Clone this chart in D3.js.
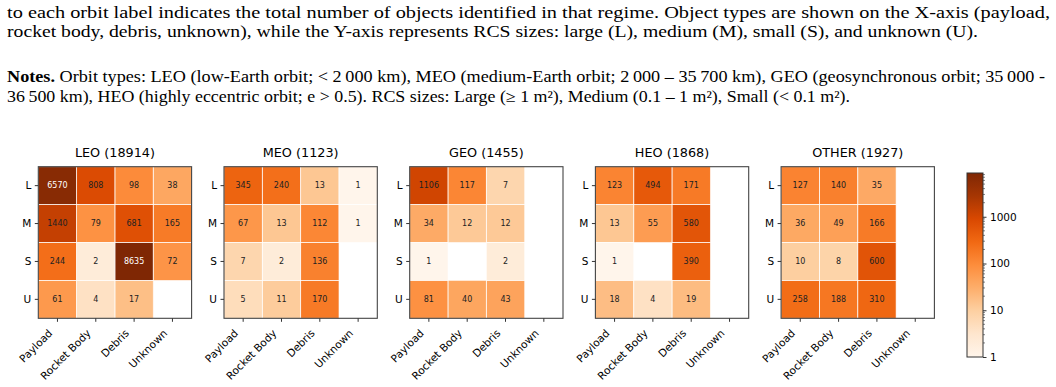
<!DOCTYPE html>
<html><head><meta charset="utf-8">
<script src="https://cdn.jsdelivr.net/npm/d3@7/dist/d3.min.js"></script>
<style>
html,body{margin:0;padding:0;background:#fff;}
svg{display:block;}
.serif{font-family:"Liberation Serif","Times New Roman",Times,serif;}
</style></head>
<body>
<svg id="chart" width="1056" height="387"></svg>
<script>
// ---------- data ----------
const orbits = ["LEO", "MEO", "GEO", "HEO", "OTHER"];
const objectTypes = ["Payload", "Rocket Body", "Debris", "Unknown"];
const rcsSizes = ["L", "M", "S", "U"];
// rows: L, M, S, U ; columns: Payload, Rocket Body, Debris, Unknown (null = none)
const leoCounts   = [[6570, 808, 98, 38], [1440, 79, 681, 165], [244, 2, 8635, 72], [61, 4, 17, null]];
const meoCounts   = [[345, 240, 13, 1], [67, 13, 112, 1], [7, 2, 136, null], [5, 11, 170, null]];
const geoCounts   = [[1106, 117, 7, null], [34, 12, 12, null], [1, null, 2, null], [81, 40, 43, null]];
const heoCounts   = [[123, 494, 171, null], [13, 55, 580, null], [1, null, 390, null], [18, 4, 19, null]];
const otherCounts = [[127, 140, 35, null], [36, 49, 166, null], [10, 8, 600, null], [258, 188, 310, null]];
const colorbarTicks = [1, 10, 100, 1000];
const captionLines = [
  "to each orbit label indicates the total number of objects identified in that regime. Object types are shown on the X-axis (payload,",
  "rocket body, debris, unknown), while the Y-axis represents RCS sizes: large (L), medium (M), small (S), and unknown (U)."
];
const notesLines = [
  "Orbit types: LEO (low-Earth orbit; < 2\u2009000 km), MEO (medium-Earth orbit; 2\u2009000 \u2013 35\u2009700 km), GEO (geosynchronous orbit; 35\u2009000 -",
  "36\u2009500 km), HEO (highly eccentric orbit; e > 0.5). RCS sizes: Large (\u2265 1 m\u00B2), Medium (0.1 \u2013 1 m\u00B2), Small (< 0.1 m\u00B2)."
];
const panelData = [leoCounts, meoCounts, geoCounts, heoCounts, otherCounts];

// ---------- setup ----------
const svg = d3.select("#chart");
const sans = "'DejaVu Sans',sans-serif";

// caption text
const cap = svg.append("g").attr("class", "serif").attr("font-size", 16).attr("fill", "#000");
cap.append("text").attr("x", 7).attr("y", 17.5).attr("textLength", 1043).attr("lengthAdjust", "spacingAndGlyphs").text(captionLines[0]);
cap.append("text").attr("x", 7).attr("y", 37).attr("textLength", 971).attr("lengthAdjust", "spacingAndGlyphs").text(captionLines[1]);
const n1 = cap.append("text").attr("x", 7).attr("y", 82).attr("textLength", 1038).attr("lengthAdjust", "spacingAndGlyphs");
n1.append("tspan").attr("font-weight", "bold").text("Notes.");
n1.append("tspan").text(" " + notesLines[0]);
cap.append("text").attr("x", 7).attr("y", 102).attr("textLength", 843).attr("lengthAdjust", "spacingAndGlyphs").text(notesLines[1]);

// colour map (matplotlib Oranges), log norm
const vmax = d3.max(panelData.flat(2).filter(v => v != null));
const orangeStops = ["#fff5eb", "#fee6ce", "#fdd0a2", "#fdae6b", "#fd8d3c", "#f16913", "#d94801", "#a63603", "#7f2704"];
const tScale = d3.scaleLog().domain([1, vmax]).range([0, 1]);
const cmap = d3.scaleLinear().domain(d3.range(9).map(i => i / 8)).range(orangeStops).interpolate(d3.interpolateRgb);
const color = v => cmap(tScale(v));

// panels
const panelLeft = 38.3, panelStep = 185.7, panelTop = 166.7, panelW = 153.3, panelH = 151.6;

panelData.forEach((counts, pi) => {
  const x0 = panelLeft + pi * panelStep;
  const g = svg.append("g").attr("transform", `translate(${x0},${panelTop})`);
  const x = d3.scaleBand().domain(objectTypes).range([0, panelW]);
  const y = d3.scaleBand().domain(rcsSizes).range([0, panelH]);
  const cells = [];
  counts.forEach((row, ri) => row.forEach((v, ci) => cells.push({ r: rcsSizes[ri], c: objectTypes[ci], v })));
  const filled = cells.filter(d => d.v != null);

  g.selectAll("rect.cell").data(filled).join("rect").attr("class", "cell")
    .attr("x", d => x(d.c)).attr("y", d => y(d.r))
    .attr("width", x.bandwidth()).attr("height", y.bandwidth())
    .attr("fill", d => color(d.v));
  g.selectAll("rect.sep").data(filled).join("rect").attr("class", "sep")
    .attr("x", d => x(d.c)).attr("y", d => y(d.r))
    .attr("width", x.bandwidth()).attr("height", y.bandwidth())
    .attr("fill", "none").attr("stroke", "#fff").attr("stroke-opacity", 0.7).attr("stroke-width", 0.8);
  g.selectAll("text.val").data(filled).join("text").attr("class", "val")
    .attr("x", d => x(d.c) + x.bandwidth() / 2).attr("y", d => y(d.r) + y.bandwidth() / 2)
    .attr("dy", "0.35em").attr("text-anchor", "middle")
    .attr("font-family", sans).attr("font-size", 8)
    .attr("fill", d => tScale(d.v) > 0.9 ? "#fff" : "#222")
    .text(d => d.v);

  g.append("rect").attr("width", panelW).attr("height", panelH)
    .attr("fill", "none").attr("stroke", "#444").attr("stroke-width", 1.1);

  const ya = g.append("g").call(d3.axisLeft(y).tickSize(3.5).tickPadding(3.5));
  ya.select(".domain").remove();
  ya.selectAll("line").attr("stroke", "#333");
  ya.selectAll("text").attr("font-family", sans).attr("font-size", 10.5).attr("fill", "#000");

  const xa = g.append("g").attr("transform", `translate(0,${panelH})`).call(d3.axisBottom(x).tickSize(3.5).tickPadding(0));
  xa.select(".domain").remove();
  xa.selectAll("line").attr("stroke", "#333");
  xa.selectAll("text").attr("font-family", sans).attr("font-size", 10.6).attr("fill", "#000")
    .attr("text-anchor", "end").attr("dy", null).attr("y", null)
    .attr("transform", "translate(-6.5,13.5) rotate(-45)")
    .attr("dominant-baseline", "middle");

  g.append("text").attr("x", panelW / 2).attr("y", -9.5).attr("text-anchor", "middle")
    .attr("font-family", sans).attr("font-size", 12.8).attr("fill", "#000")
    .text(`${orbits[pi]} (${d3.sum(counts.flat().filter(v => v != null))})`);
});

// colorbar
const cbX = 967, cbW = 16, cbTop = 173, cbBottom = 357;
const defs = svg.append("defs");
const grad = defs.append("linearGradient").attr("id", "cbgrad").attr("x1", 0).attr("y1", 1).attr("x2", 0).attr("y2", 0);
orangeStops.forEach((c, i) => grad.append("stop").attr("offset", i / 8).attr("stop-color", c));
svg.append("rect").attr("x", cbX).attr("y", cbTop).attr("width", cbW).attr("height", cbBottom - cbTop).attr("fill", "url(#cbgrad)");
const cbScale = d3.scaleLog().domain([1, vmax]).range([cbBottom, cbTop]);
const minorTicks = [];
for (let e = 0; e < 4; e++) for (let m = 2; m <= 9; m++) { const v = m * Math.pow(10, e); if (v <= vmax) minorTicks.push(v); }
const cbg = svg.append("g").attr("transform", `translate(${cbX + cbW},0)`);
cbg.selectAll("line.minor").data(minorTicks).join("line").attr("class", "minor")
  .attr("x1", 0).attr("x2", 2).attr("y1", d => cbScale(d)).attr("y2", d => cbScale(d)).attr("stroke", "#333").attr("stroke-width", 0.6);
const cba = cbg.append("g").call(d3.axisRight(cbScale).tickValues(colorbarTicks).tickFormat(d3.format("d")).tickSize(3.5).tickPadding(3.5));
cba.select(".domain").remove();
cba.selectAll("line").attr("stroke", "#333");
cba.selectAll("text").attr("font-family", sans).attr("font-size", 10.5).attr("fill", "#000");
svg.append("rect").attr("x", cbX).attr("y", cbTop).attr("width", cbW).attr("height", cbBottom - cbTop)
  .attr("fill", "none").attr("stroke", "#333").attr("stroke-width", 1);
</script>
</body></html>
